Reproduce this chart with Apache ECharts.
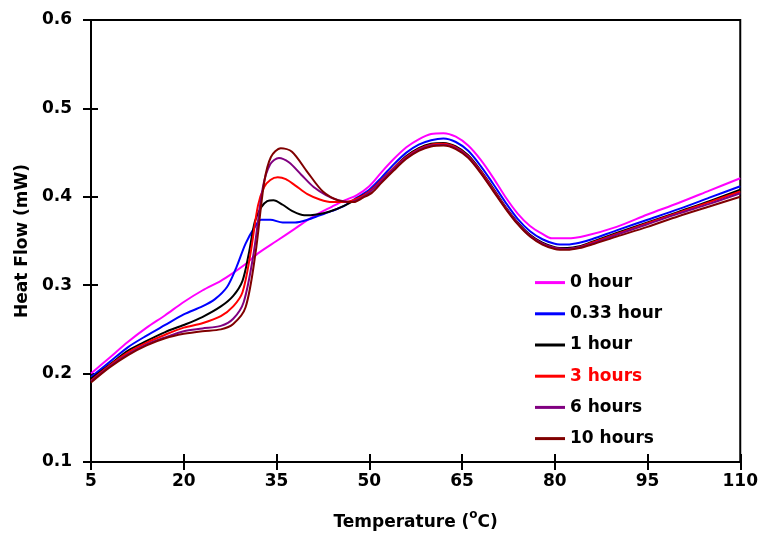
<!DOCTYPE html>
<html>
<head>
<meta charset="utf-8">
<script src="https://cdn.jsdelivr.net/npm/echarts@6/dist/echarts.min.js"></script>
<style>html,body{margin:0;padding:0;background:#fff}#c{width:761px;height:539px}</style>
</head>
<body>
<div id="c"></div>
<script>
const seriesNames = ['0 hour', '0.33 hour', '1 hour', '3 hours', '6 hours', '10 hours'];
const seriesColors = ['#FF00FF', '#0000FF', '#000000', '#FF0000', '#800080', '#800000'];
const xTicks = [5, 20, 35, 50, 65, 80, 95, 110];
const yTicks = [0.1, 0.2, 0.3, 0.4, 0.5, 0.6];

const hour0 = [[5,0.200],[8,0.218],[11,0.236],[14,0.252],[17,0.266],[20,0.281],[23,0.294],[26,0.305],[28,0.314],[30,0.324],[32,0.336],[35,0.350],[38,0.364],[41,0.378],[44,0.389],[46,0.396],
  [48,0.402],[50,0.412],[52,0.428],[54,0.443],[56,0.456],[58,0.465],[60,0.471],[62,0.472],[64,0.468],[66,0.458],[68,0.442],[70,0.422],[72,0.400],[74,0.381],[76,0.367],[78,0.358],[79.5,0.353],[82,0.353],[85,0.356],[90,0.366],[95,0.380],[100,0.393],[105,0.407],[110,0.421]];
const hour033 = [[5,0.196],[8,0.213],[11,0.230],[14,0.243],[17,0.255],[20,0.267],[23,0.276],[25,0.284],[27,0.298],[28.5,0.320],[30,0.347],[31.5,0.366],[32.5,0.374],[34,0.374],[36,0.371],[38,0.371],[40,0.374],[42,0.379],[44,0.384],[46,0.390],
  [48,0.399],[50,0.408],[52,0.422],[54,0.437],[56,0.450],[58,0.459],[60,0.464],[62,0.466],[64,0.462],[66,0.452],[68,0.435],[70,0.415],[72,0.394],[74,0.375],[76,0.361],[78,0.352],[80,0.347],[82,0.346],[84,0.348],[86,0.352],[90,0.362],[95,0.374],[100,0.386],[105,0.399],[110,0.412]];
const hour1 = [[5,0.194],[8,0.210],[11,0.226],[14,0.237],[17,0.247],[20,0.255],[23,0.264],[26,0.276],[28,0.288],[29.5,0.305],[30.5,0.335],[31.5,0.372],[32.5,0.388],[33.5,0.395],[34.5,0.396],[36,0.391],[37.5,0.384],[39.5,0.379],[41.5,0.380],[43.5,0.383],[46,0.390],
  [48,0.398],[50,0.406],[52,0.419],[54,0.433],[56,0.446],[58,0.455],[60,0.460],[62,0.461],[64,0.457],[66,0.447],[68,0.430],[70,0.410],[72,0.389],[74,0.371],[76,0.357],[78,0.348],[80,0.343],[82,0.342],[84,0.344],[86,0.349],[90,0.359],[95,0.371],[100,0.383],[105,0.395],[110,0.408]];
const hour3 = [[5,0.192],[8,0.209],[11,0.224],[14,0.235],[17,0.244],[20,0.252],[23,0.257],[26,0.265],[28,0.276],[29.5,0.292],[30.8,0.336],[32,0.390],[33,0.411],[34,0.419],[35.2,0.422],[36.5,0.420],[38,0.413],[40,0.403],[42,0.397],[44,0.394],[46,0.394],
  [48,0.398],[50,0.406],[52,0.419],[54,0.433],[56,0.445],[58,0.454],[60,0.459],[62,0.460],[64,0.456],[66,0.446],[68,0.429],[70,0.409],[72,0.388],[74,0.370],[76,0.356],[78,0.347],[80,0.342],[82,0.341],[84,0.343],[86,0.348],[90,0.358],[95,0.370],[100,0.382],[105,0.394],[110,0.406]];
const hour6 = [[5,0.191],[8,0.208],[11,0.222],[14,0.233],[17,0.241],[20,0.248],[23,0.251],[26,0.254],[28,0.262],[29.7,0.281],[31.3,0.336],[32.8,0.411],[34,0.437],[35.4,0.444],[37,0.439],[39,0.425],[41,0.411],[43,0.402],[45,0.396],[47,0.394],
  [48.5,0.398],[50,0.405],[52,0.418],[54,0.432],[56,0.444],[58,0.453],[60,0.458],[62,0.459],[64,0.455],[66,0.445],[68,0.428],[70,0.408],[72,0.388],[74,0.370],[76,0.356],[78,0.347],[80,0.342],[82,0.341],[84,0.343],[86,0.347],[90,0.357],[95,0.369],[100,0.381],[105,0.392],[110,0.404]];
const hour10 = [[5,0.190],[8,0.207],[11,0.221],[14,0.232],[17,0.240],[20,0.245],[23,0.248],[26,0.250],[28,0.256],[30,0.275],[31.6,0.336],[33,0.416],[34.1,0.445],[35.7,0.455],[37.5,0.451],[40,0.428],[42.5,0.406],[45,0.396],[47.5,0.394],
  [49,0.399],[50.5,0.405],[52,0.416],[54,0.430],[56,0.443],[58,0.452],[60,0.457],[62,0.458],[64,0.454],[66,0.444],[68,0.427],[70,0.407],[72,0.387],[74,0.369],[76,0.355],[78,0.346],[80,0.341],[82,0.340],[84,0.342],[86,0.346],[90,0.355],[95,0.366],[100,0.378],[105,0.389],[110,0.400]];

const allData = [hour0, hour033, hour1, hour3, hour6, hour10];

const chart = echarts.init(document.getElementById('c'), null, {renderer: 'canvas'});
const font = '"DejaVu Sans", sans-serif';
const axisCommon = {
  axisLine: {show: true, lineStyle: {color: '#000', width: 2}},
  splitLine: {show: false}
};
chart.setOption({
  animation: false,
  backgroundColor: '#fff',
  grid: {left: 91, right: 20, top: 20, bottom: 77, show: true, borderColor: '#000', borderWidth: 2, backgroundColor: 'transparent'},
  legend: {
    orient: 'vertical', left: 530, top: 268, itemWidth: 30, itemHeight: 3, itemGap: 12,
    icon: 'rect',
    textStyle: {fontFamily: font, fontSize: 17, fontWeight: 'bold', color: '#000', lineHeight: 19.2},
    data: seriesNames.map((n, i) => i === 3 ? {name: n, textStyle: {color: '#FF0000'}} : {name: n})
  },
  xAxis: [
    Object.assign({}, axisCommon, {
      type: 'value', min: 5, max: 110, interval: 15,
      axisTick: {show: true, length: 8, inside: false, lineStyle: {color: '#000', width: 2}},
      axisLabel: {margin: 11, fontFamily: font, fontSize: 17, fontWeight: 'bold', color: '#000',
        customValues: xTicks},
      name: '{b|Temperature (}{sup|o}{b|C)}', nameLocation: 'middle', nameGap: 47,
      nameTextStyle: {fontFamily: font, fontSize: 17, fontWeight: 'bold', color: '#000',
        rich: {
          b: {fontFamily: font, fontSize: 17, fontWeight: 'bold', color: '#000', lineHeight: 22, verticalAlign: 'bottom'},
          sup: {fontFamily: font, fontSize: 12, fontWeight: 'bold', color: '#000', lineHeight: 11, verticalAlign: 'top'}
        }}
    }),
    {type: 'value', min: 5, max: 110, interval: 15, position: 'bottom',
      axisLine: {show: false}, axisLabel: {show: false}, splitLine: {show: false},
      axisTick: {show: true, inside: true, length: 8, lineStyle: {color: '#000', width: 2}}}
  ],
  yAxis: [
    Object.assign({}, axisCommon, {
      type: 'value', min: 0.1, max: 0.6, interval: 0.1,
      axisTick: {show: true, length: 8, inside: false, lineStyle: {color: '#000', width: 2}},
      axisLabel: {margin: 19, fontFamily: font, fontSize: 17, fontWeight: 'bold', color: '#000',
        formatter: v => v.toFixed(1)},
      name: 'Heat Flow (mW)', nameLocation: 'middle', nameGap: 60, nameRotate: 90,
      nameTextStyle: {fontFamily: font, fontSize: 17, fontWeight: 'bold', color: '#000'}
    }),
    {type: 'value', min: 0.1, max: 0.6, interval: 0.1, position: 'left',
      axisLine: {show: false}, axisLabel: {show: false}, splitLine: {show: false},
      axisTick: {show: true, inside: true, length: 7, lineStyle: {color: '#000', width: 2}}}
  ],
  series: allData.map((d, i) => ({
    name: seriesNames[i], type: 'line', data: d, xAxisIndex: 0, yAxisIndex: 0,
    showSymbol: false, symbol: 'none', smooth: 0.3,
    itemStyle: {color: seriesColors[i]},
    lineStyle: {color: seriesColors[i], width: 2}
  }))
});
</script>
</body>
</html>
